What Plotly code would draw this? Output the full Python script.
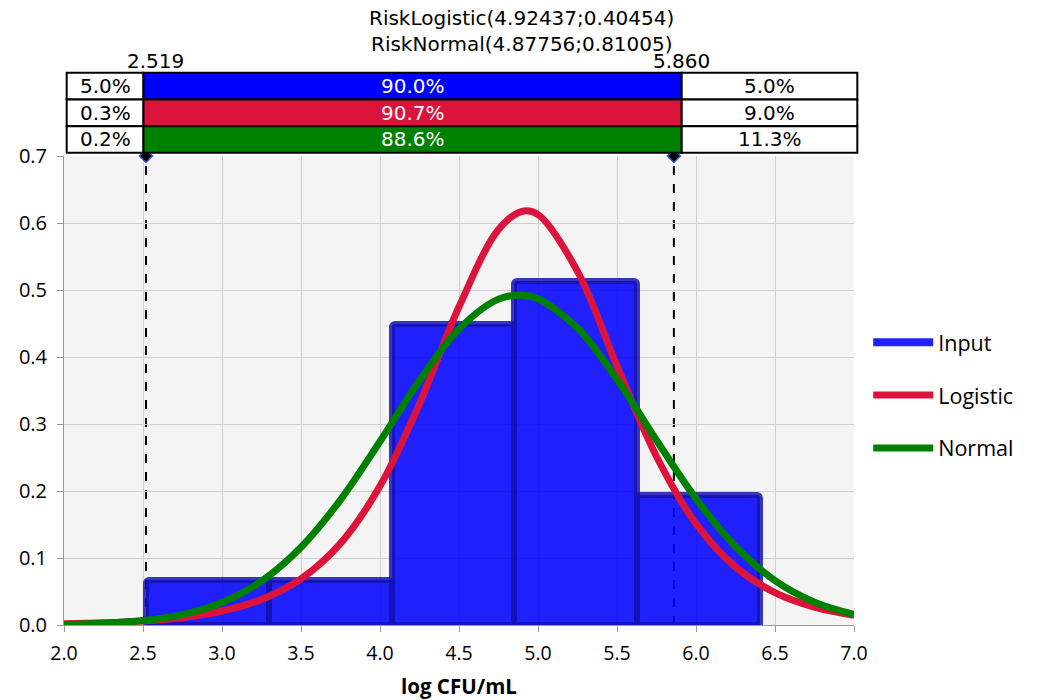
import plotly.graph_objects as go

# ---------------- data ----------------
bin_edges = [2.520, 3.297, 4.073, 4.850, 5.627, 6.403]
bin_heights = [0.067, 0.067, 0.449, 0.514, 0.194]

curve_x = [2.0, 2.25, 2.5, 2.75, 3.0, 3.25, 3.5, 3.75, 4.0, 4.25, 4.5, 4.75, 4.9,
           5.0, 5.25, 5.5, 5.75, 6.0, 6.25, 6.5, 6.75, 7.0]
logistic_y = [0.0018, 0.0033, 0.0061, 0.0113, 0.0209, 0.0382, 0.0690, 0.1219, 0.2073,
              0.3303, 0.4749, 0.5902, 0.6174, 0.6126, 0.5278, 0.3869, 0.2515, 0.1512,
              0.0866, 0.0483, 0.0265, 0.0144]
normal_y = [0.0009, 0.0026, 0.0066, 0.0156, 0.0336, 0.0654, 0.1160, 0.1869, 0.2739,
            0.3648, 0.4418, 0.4864, 0.4923, 0.4869, 0.4431, 0.3666, 0.2758, 0.1886,
            0.1172, 0.0663, 0.0341, 0.0159]

series_names = ["Input", "Logistic", "Normal"]
series_colors = ["#2020FF", "#DC143C", "#008000"]
title_lines = ["RiskLogistic(4.92437;0.40454)", "RiskNormal(4.87756;0.81005)"]
x_title = "log CFU/mL"
marker_values = [2.519, 5.860]
left_pct = ["5.0%", "0.3%", "0.2%"]
mid_pct = ["90.0%", "90.7%", "88.6%"]
right_pct = ["5.0%", "9.0%", "11.3%"]
row_colors = ["#0000FF", "#DC143C", "#008000"]

# ---------------- figure ----------------
fig = go.Figure()

centers = [(bin_edges[i] + bin_edges[i + 1]) / 2 for i in range(len(bin_heights))]
widths = [bin_edges[i + 1] - bin_edges[i] for i in range(len(bin_heights))]

fig.add_trace(go.Bar(
    x=centers, y=bin_heights, width=widths,
    marker=dict(color="rgba(0,0,255,0.87)",
                line=dict(color="rgba(20,20,175,0.85)", width=6),
                cornerradius=3),
    showlegend=False, hoverinfo="skip",
))

# legend entry for Input (line style)
fig.add_trace(go.Scatter(x=[None], y=[None], mode="lines", name=series_names[0],
                         line=dict(color=series_colors[0], width=8), legendgroup="a"))
fig.add_trace(go.Scatter(x=curve_x, y=logistic_y, mode="lines", name=series_names[1],
                         line=dict(color=series_colors[1], width=7, shape="spline"),
                         legendgroup="b"))
fig.add_trace(go.Scatter(x=curve_x, y=normal_y, mode="lines", name=series_names[2],
                         line=dict(color=series_colors[2], width=7, shape="spline"),
                         legendgroup="c"))

# percentile markers
fig.add_trace(go.Scatter(
    x=marker_values, y=[0.7, 0.7], mode="markers", showlegend=False, cliponaxis=False,
    marker=dict(symbol="diamond", size=10, color="black",
                line=dict(color="#3355cc", width=1.5)),
    hoverinfo="skip",
))

shapes = []
for v in marker_values:
    shapes.append(dict(type="line", xref="x", yref="y", x0=v, x1=v, y0=0, y1=0.7,
                       line=dict(color="black", width=2, dash="dash"), layer="below"))

# table above plot (paper coordinates)
col_x = [0.0034, 0.1006, 0.7819, 1.0042]
row_y = [1.1776, 1.1205, 1.0633, 1.0071]
annotations = []
font_tbl = "DejaVu Sans"
for r in range(3):
    y0, y1 = row_y[r + 1], row_y[r]
    fills = ["white", row_colors[r], "white"]
    texts = [left_pct[r], mid_pct[r], right_pct[r]]
    tcolors = ["black", "white", "black"]
    for c in range(3):
        shapes.append(dict(type="rect", xref="paper", yref="paper",
                           x0=col_x[c], x1=col_x[c + 1], y0=y0, y1=y1,
                           fillcolor=fills[c], line=dict(color="black", width=2),
                           layer="above"))
        annotations.append(dict(xref="paper", yref="paper",
                                x=(col_x[c] + col_x[c + 1]) / 2, y=(y0 + y1) / 2,
                                text=texts[c], showarrow=False,
                                font=dict(family=font_tbl, size=20, color=tcolors[c]),
                                xanchor="center", yanchor="middle"))

# percentile value labels
for v, xs in zip(marker_values, [9, 8]):
    annotations.append(dict(xref="x", yref="paper", x=v, y=1.2015, xshift=xs,
                            text=f"{v:.3f}", showarrow=False,
                            font=dict(family=font_tbl, size=20, color="black"),
                            xanchor="center", yanchor="middle"))

# title lines
for t, yy in zip(title_lines, [1.294, 1.2388]):
    annotations.append(dict(xref="paper", yref="paper", x=0.5797, y=yy, text=t,
                            showarrow=False,
                            font=dict(family=font_tbl, size=20, color="black"),
                            xanchor="center", yanchor="middle"))

# x-axis title
annotations.append(dict(xref="paper", yref="paper", x=0.5, y=-0.130,
                        text=f"<b>{x_title}</b>", showarrow=False,
                        font=dict(family="Open Sans", size=20.5, color="black"),
                        xanchor="center", yanchor="middle"))

fig.update_layout(
    width=1037, height=700,
    margin=dict(l=64, r=183, t=156, b=75),
    paper_bgcolor="white", plot_bgcolor="#F4F4F4",
    bargap=0,
    shapes=shapes, annotations=annotations,
    legend=dict(x=1.018, y=0.49, xanchor="left", yanchor="middle",
                font=dict(family="Open Sans", size=21.5, color="black"),
                itemwidth=60, tracegroupgap=22, bgcolor="rgba(0,0,0,0)"),
    xaxis=dict(range=[2, 7], dtick=0.5, tick0=2, tickformat=".1f",
               showgrid=True, gridcolor="#CFCFCF", gridwidth=1,
               ticks="outside", ticklen=6, tickcolor="#999999",
               showline=True, linecolor="#999999", linewidth=1,
               ticklabelstandoff=5,
               tickfont=dict(family="Open Sans", size=19.5, color="black"),
               zeroline=False, mirror=False),
    yaxis=dict(range=[0, 0.7], dtick=0.1, tickformat=".1f",
               showgrid=True, gridcolor="#CFCFCF", gridwidth=1,
               ticks="outside", ticklen=6, tickcolor="#999999",
               showline=True, linecolor="#999999", linewidth=1,
               ticklabelstandoff=6,
               tickfont=dict(family="Open Sans", size=20, color="black"),
               zeroline=False),
)

fig.write_html("out.html", config={"displayModeBar": False},
               post_script="document.body.style.margin='0';document.body.style.overflow='hidden';")
